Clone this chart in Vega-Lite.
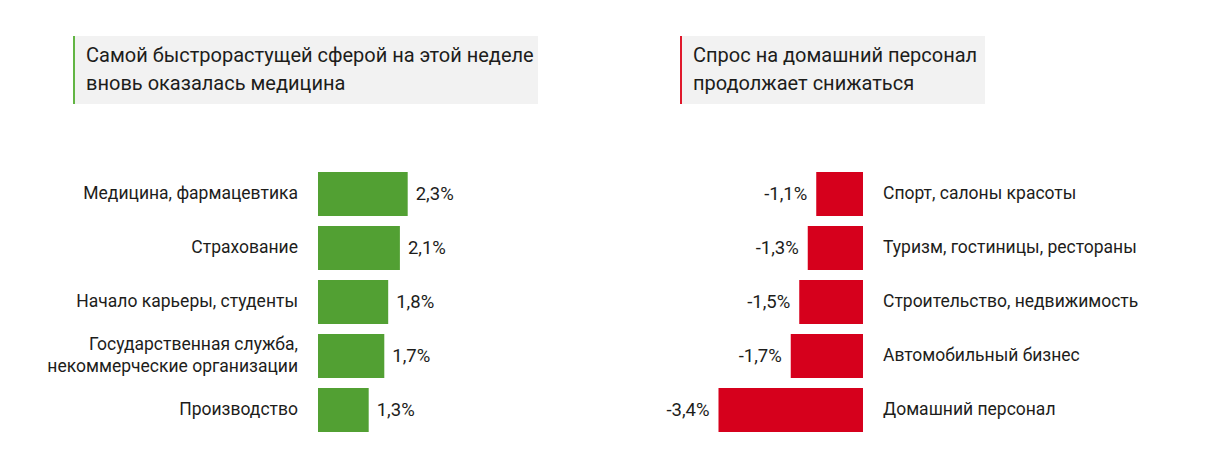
{
  "$schema": "https://vega.github.io/schema/vega-lite/v6.json",
  "padding": {"left": 37, "top": 36, "right": 0, "bottom": 0},
  "background": "white",
  "config": {
    "view": {"stroke": null},
    "font": "Roboto",
    "text": {"font": "Roboto", "color": "#1d1d1b"},
    "locale": {"number": {"decimal": ",", "thousands": " ", "grouping": [3], "currency": ["", ""], "minus": "-"}}
  },
  "hconcat": [
    {
      "vconcat": [
        {
          "hconcat": [
            {"width": 36, "height": 68, "data": {"values": []}, "mark": "point"},
            {"width": 2, "height": 68, "view": {"fill": "#62b544", "stroke": null}, "data": {"values": []}, "mark": "point"},
            {
              "width": 463, "height": 68,
              "view": {"fill": "#f2f2f2", "stroke": null},
              "data": {"values": [{"t": "Самой быстрорастущей сферой на этой неделе\nвновь оказалась медицина"}]},
              "mark": {"type": "text", "align": "left", "baseline": "middle", "dx": 11, "dy": -14, "fontSize": 20, "lineHeight": 28, "lineBreak": "\n"},
              "encoding": {
                "x": {"datum": 0, "type": "quantitative", "scale": {"domain": [0, 1]}, "axis": null},
                "text": {"field": "t", "type": "nominal"}
              }
            }
          ],
          "spacing": 0
        },
        {
          "width": 440, "height": 270,
          "data": {"values": [
            {"cat": "Медицина, фармацевтика", "v": 0.023},
            {"cat": "Страхование", "v": 0.021},
            {"cat": "Начало карьеры, студенты", "v": 0.018},
            {"cat": "Государственная служба,\nнекоммерческие организации", "v": 0.017},
            {"cat": "Производство", "v": 0.013}
          ]},
          "encoding": {
            "y": {"field": "cat", "type": "nominal", "sort": null, "axis": null, "scale": {"paddingInner": 0.185, "paddingOuter": 0.0926}}
          },
          "layer": [
            {
              "mark": {"type": "bar", "color": "#52a033"},
              "encoding": {
                "x": {"field": "v", "type": "quantitative", "scale": {"domain": [-0.07205, 0.04077], "nice": false, "zero": false}, "axis": null},
                "x2": {"datum": 0}
              }
            },
            {
              "mark": {"type": "text", "align": "left", "baseline": "middle", "dx": 8, "fontSize": 18.5},
              "encoding": {
                "x": {"field": "v", "type": "quantitative"},
                "text": {"field": "v", "type": "quantitative", "format": ".1%"}
              }
            },
            {
              "transform": [{"filter": "indexof(datum.cat, '\\n') < 0"}],
              "mark": {"type": "text", "align": "right", "baseline": "middle", "dx": -20, "fontSize": 17.5},
              "encoding": {
                "x": {"datum": 0, "type": "quantitative"},
                "text": {"field": "cat", "type": "nominal"}
              }
            },
            {
              "transform": [{"filter": "indexof(datum.cat, '\\n') >= 0"}],
              "mark": {"type": "text", "align": "right", "baseline": "middle", "dx": -20, "dy": -11, "fontSize": 17.5, "lineHeight": 22, "lineBreak": "\n"},
              "encoding": {
                "x": {"datum": 0, "type": "quantitative"},
                "text": {"field": "cat", "type": "nominal"}
              }
            }
          ]
        }
      ],
      "spacing": 63
    },
    {
      "vconcat": [
        {
          "hconcat": [
            {"width": 25, "height": 68, "data": {"values": []}, "mark": "point"},
            {"width": 2, "height": 68, "view": {"fill": "#e0182b", "stroke": null}, "data": {"values": []}, "mark": "point"},
            {
              "width": 303, "height": 68,
              "view": {"fill": "#f2f2f2", "stroke": null},
              "data": {"values": [{"t": "Спрос на домашний персонал\nпродолжает снижаться"}]},
              "mark": {"type": "text", "align": "left", "baseline": "middle", "dx": 11, "dy": -14, "fontSize": 20, "lineHeight": 28, "lineBreak": "\n"},
              "encoding": {
                "x": {"datum": 0, "type": "quantitative", "scale": {"domain": [0, 1]}, "axis": null},
                "text": {"field": "t", "type": "nominal"}
              }
            }
          ],
          "spacing": 0
        },
        {
          "width": 495, "height": 270,
          "data": {"values": [
            {"cat": "Спорт, салоны красоты", "v": -0.011},
            {"cat": "Туризм, гостиницы, рестораны", "v": -0.013},
            {"cat": "Строительство, недвижимость", "v": -0.015},
            {"cat": "Автомобильный бизнес", "v": -0.017},
            {"cat": "Домашний персонал", "v": -0.034}
          ]},
          "encoding": {
            "y": {"field": "cat", "type": "nominal", "sort": null, "axis": null, "scale": {"paddingInner": 0.185, "paddingOuter": 0.0926}}
          },
          "layer": [
            {
              "mark": {"type": "bar", "color": "#d6001c"},
              "encoding": {
                "x": {"field": "v", "type": "quantitative", "scale": {"domain": [-0.04894, 0.06753], "nice": false, "zero": false}, "axis": null},
                "x2": {"datum": 0}
              }
            },
            {
              "mark": {"type": "text", "align": "right", "baseline": "middle", "dx": -9, "fontSize": 18.5},
              "encoding": {
                "x": {"field": "v", "type": "quantitative"},
                "text": {"field": "v", "type": "quantitative", "format": ".1%"}
              }
            },
            {
              "mark": {"type": "text", "align": "left", "baseline": "middle", "dx": 20, "fontSize": 17.5},
              "encoding": {
                "x": {"datum": 0, "type": "quantitative"},
                "text": {"field": "cat", "type": "nominal"}
              }
            }
          ]
        }
      ],
      "spacing": 63
    }
  ],
  "spacing": 117
}
